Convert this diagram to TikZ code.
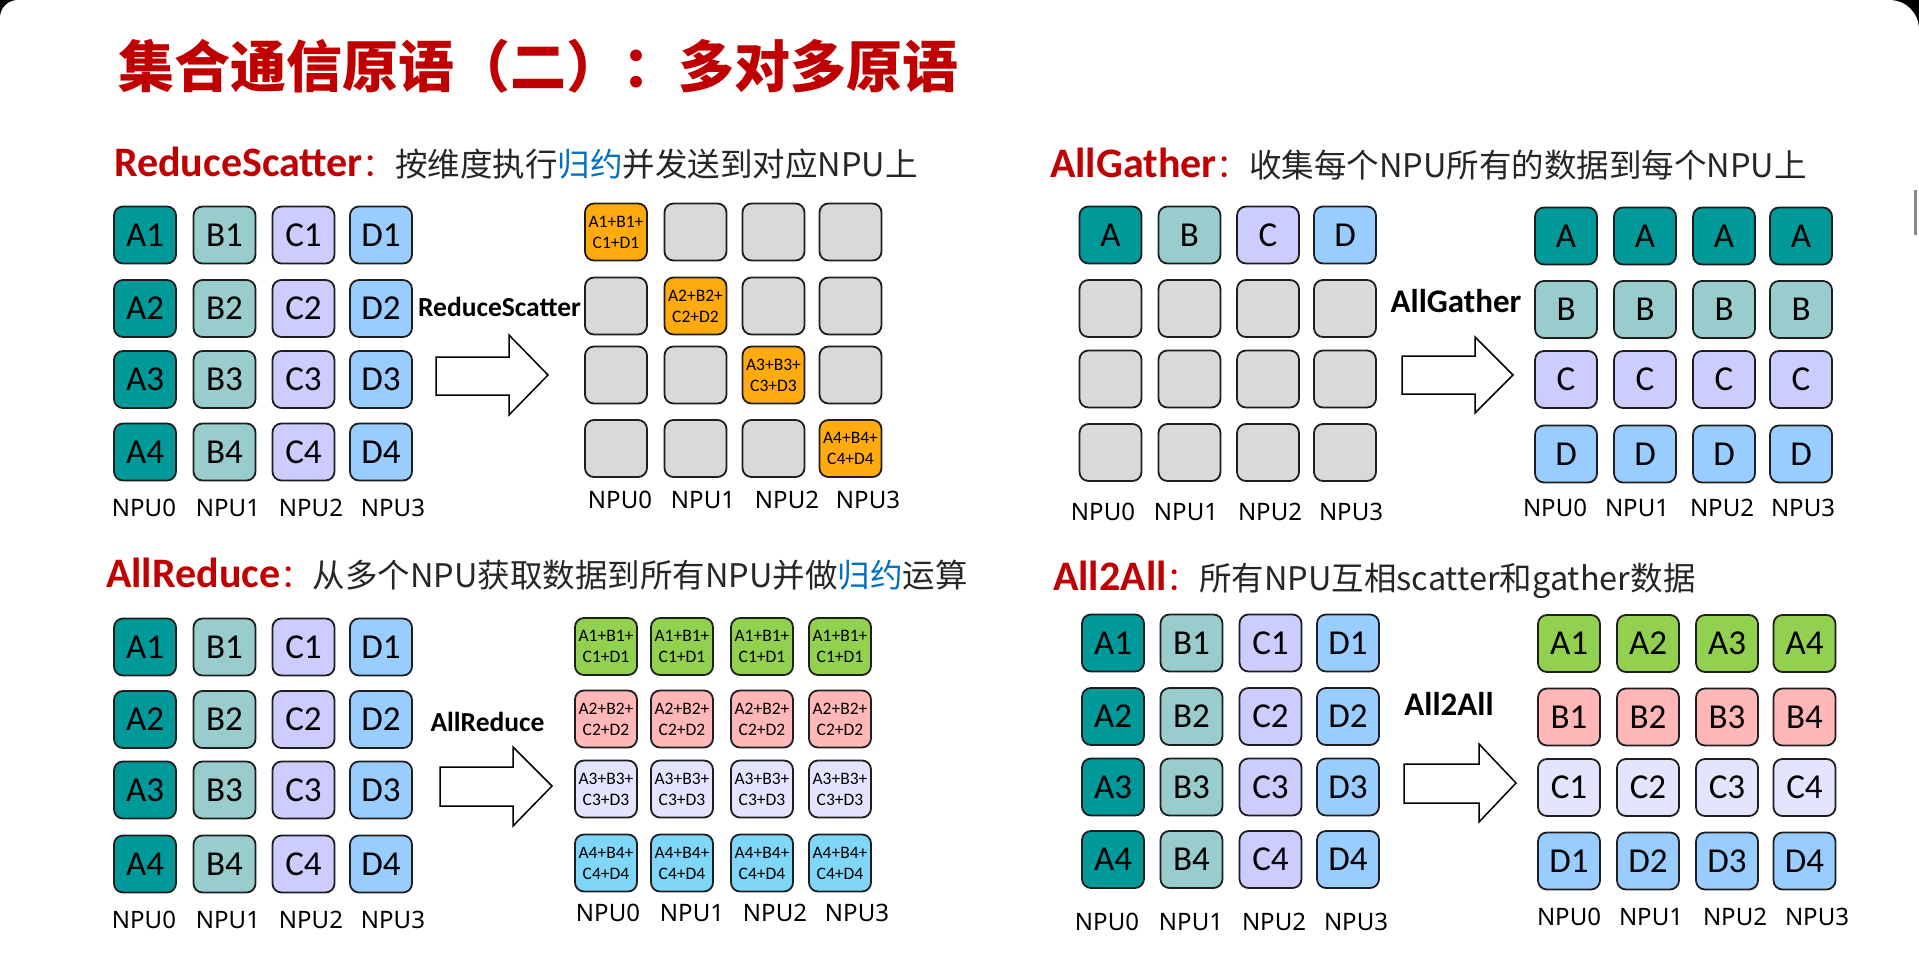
\documentclass[tikz,border=0pt]{standalone}
\usepackage{fontspec}
\setmainfont{Carlito}
\newfontfamily\cjk{Noto Sans CJK SC}
\newfontfamily\npufont{Noto Sans}

\definecolor{titlered}{RGB}{192,0,0}
\definecolor{bodytext}{RGB}{38,38,38}
\definecolor{kwblue}{RGB}{0,112,192}
\definecolor{edge}{RGB}{30,30,30}
\definecolor{cA}{RGB}{0,153,153}
\definecolor{cB}{RGB}{153,204,204}
\definecolor{cC}{RGB}{204,204,255}
\definecolor{cD}{RGB}{153,204,255}
\definecolor{cGray}{RGB}{217,217,217}
\definecolor{cOrange}{RGB}{255,171,15}
\definecolor{cGreen}{RGB}{146,208,80}
\definecolor{cPink}{RGB}{255,183,183}
\definecolor{cLav}{RGB}{228,228,255}
\definecolor{cCyan}{RGB}{128,214,247}
\definecolor{scrollgray}{RGB}{136,136,136}

% heading parts: red bold operation name + colon, then the description
\newcommand\hdname[1]{{\color{titlered}\bfseries\fontsize{42}{42}\selectfont #1}{\cjk\color{titlered}\fontsize{32.5}{32.5}\selectfont ：}}
\newcommand\hdtext[1]{{\cjk\color{bodytext}\fontsize{32.5}{32.5}\selectfont #1}}
\newcommand\kw[1]{\textcolor{kwblue}{#1}}

\tikzset{
  cell/.style={draw=edge, line width=1.8pt, rounded corners=9pt,
    minimum width=62pt, minimum height=57pt, inner sep=0pt,
    text=black, font=\fontsize{35}{35}\selectfont},
  sumcell/.style={cell, align=center, font=\fontsize{17.5}{21}\selectfont},
  npu/.style={inner sep=0pt, text=black, font=\npufont\fontsize{24}{24}\selectfont},
  oplabel/.style={inner sep=0pt, text=black, font=\bfseries\fontsize{27.5}{27.5}\selectfont},
  oplabelbig/.style={oplabel, font=\bfseries\fontsize{33}{33}\selectfont},
  blockarrow/.style={draw=black, fill=white, line width=1.5pt, line join=miter},
  heading/.style={anchor=base west, inner sep=0pt},
}

\begin{document}
\begin{tikzpicture}[x=1pt,y=-1pt]
\useasboundingbox (0,0) rectangle (1919,953);
% slide page with rounded top corners
\fill[black] (0,0) rectangle (1919,953);
\fill[white] (0,953) -- (0,18) .. controls (0,8) and (8,0) .. (18,0) -- (1889,0)
  .. controls (1906,0) and (1919,13) .. (1919,30) -- (1919,953) -- cycle;
\fill[scrollgray] (1914,190) rectangle (1917,235);

% title
\node[heading, text=titlered, font=\cjk\bfseries\fontsize{56}{56}\selectfont] (title) at (118,87)
  {集合通信原语（二）：多对多原语};

% section headings
\node[heading] (hRS) at (114,176) {\hdname{ReduceScatter}\hdtext{按维度执行\kw{归约}并发送到对应NPU上}};
\node[heading] (hAG) at (1050,177) {\hdname{AllGather}\hdtext{收集每个NPU所有的数据到每个NPU上}};
\node[heading] (hAR) at (106,587) {\hdname{AllReduce}\hdtext{从多个NPU获取数据到所有NPU并做\kw{归约}运算}};
\node[heading] (hAA) at (1053,590) {\hdname{All2All}\hdtext{所有NPU互相scatter和gather数据}};

%%% ReduceScatter
\foreach \x/\L/\c [count=\i] in {145/A/cA,224.5/B/cB,303.5/C/cC,381/D/cD}
  \foreach \y [count=\j] in {235,308.5,379.5,452}
    \node[cell, fill=\c] (rsL\i\j) at (\x,\y) {\L\j};
\foreach \x [count=\i] in {616,695.5,773.5,850.5}
  \foreach \y [count=\j] in {232,306,375,448.5}{
    \ifnum\i=\j
      \node[sumcell, fill=cOrange] (rsR\i\j) at (\x,\y) {A\j+B\j+\\C\j+D\j};
    \else
      \node[cell, fill=cGray] (rsR\i\j) at (\x,\y) {};
    \fi
  }
\foreach \x [count=\i from 0] in {144,228,311,393}
  \node[npu] (rsLn\i) at (\x,508) {NPU\i};
\foreach \x [count=\i from 0] in {620,703,787,868}
  \node[npu] (rsRn\i) at (\x,500) {NPU\i};
\draw[blockarrow] (436,357) -- (509,357) -- (509,335) -- (548,375) -- (509,415) -- (509,395) -- (436,395) -- cycle;
\node[oplabel] (rsop) at (499.5,307) {ReduceScatter};

%%% AllGather
\foreach \x/\L/\c [count=\i] in {1110.5/A/cA,1189.5/B/cB,1268/C/cC,1345/D/cD}
  \foreach \y [count=\j] in {235,308.5,379,452.5}{
    \ifnum\j=1
      \node[cell, fill=\c] (agL\i\j) at (\x,\y) {\L};
    \else
      \node[cell, fill=cGray] (agL\i\j) at (\x,\y) {};
    \fi
  }
\foreach \x [count=\i] in {1566,1645,1724,1801}
  \foreach \y/\L/\c [count=\j] in {236/A/cA,309.5/B/cB,379.5/C/cC,454/D/cD}
    \node[cell, fill=\c] (agR\i\j) at (\x,\y) {\L};
\foreach \x [count=\i from 0] in {1103,1186,1270,1351}
  \node[npu] (agLn\i) at (\x,512) {NPU\i};
\foreach \x [count=\i from 0] in {1555,1637,1722,1803}
  \node[npu] (agRn\i) at (\x,508) {NPU\i};
\draw[blockarrow] (1402,356) -- (1475,356) -- (1475,337) -- (1513,375) -- (1475,413) -- (1475,394) -- (1402,394) -- cycle;
\node[oplabelbig] (agop) at (1456,301) {AllGather};

%%% AllReduce
\foreach \x/\L/\c [count=\i] in {145/A/cA,224.5/B/cB,303.5/C/cC,381/D/cD}
  \foreach \y [count=\j] in {647,719.5,790,864}
    \node[cell, fill=\c] (arL\i\j) at (\x,\y) {\L\j};
\foreach \x [count=\i] in {606,682,762,840}
  \foreach \y/\c [count=\j] in {646.5/cGreen,719/cPink,789/cLav,863/cCyan}
    \node[sumcell, fill=\c] (arR\i\j) at (\x,\y) {A\j+B\j+\\C\j+D\j};
\foreach \x [count=\i from 0] in {144,228,311,393}
  \node[npu] (arLn\i) at (\x,920) {NPU\i};
\foreach \x [count=\i from 0] in {608,692,775,857}
  \node[npu] (arRn\i) at (\x,913) {NPU\i};
\draw[blockarrow] (440,767) -- (513,767) -- (513,747) -- (552,786) -- (513,826) -- (513,806) -- (440,806) -- cycle;
\node[oplabel] (arop) at (487.5,722) {AllReduce};

%%% All2All
\foreach \x/\L/\c [count=\i] in {1113/A/cA,1191.5/B/cB,1270.5/C/cC,1348/D/cD}
  \foreach \y [count=\j] in {643,716.5,787,859.5}
    \node[cell, fill=\c] (aaL\i\j) at (\x,\y) {\L\j};
\foreach \x [count=\i] in {1569,1648,1727,1804.5}
  \foreach \y/\L/\c [count=\j] in {643.5/A/cGreen,717/B/cPink,787.5/C/cLav,861/D/cD}
    \node[cell, fill=\c] (aaR\i\j) at (\x,\y) {\L\i};
\foreach \x [count=\i from 0] in {1107,1191,1274,1356}
  \node[npu] (aaLn\i) at (\x,922) {NPU\i};
\foreach \x [count=\i from 0] in {1569,1651,1735,1817}
  \node[npu] (aaRn\i) at (\x,917) {NPU\i};
\draw[blockarrow] (1404,764) -- (1479,764) -- (1479,744) -- (1516,783) -- (1479,822) -- (1479,803) -- (1404,803) -- cycle;
\node[oplabelbig] (aaop) at (1449,704) {All2All};
\end{tikzpicture}
\end{document}
